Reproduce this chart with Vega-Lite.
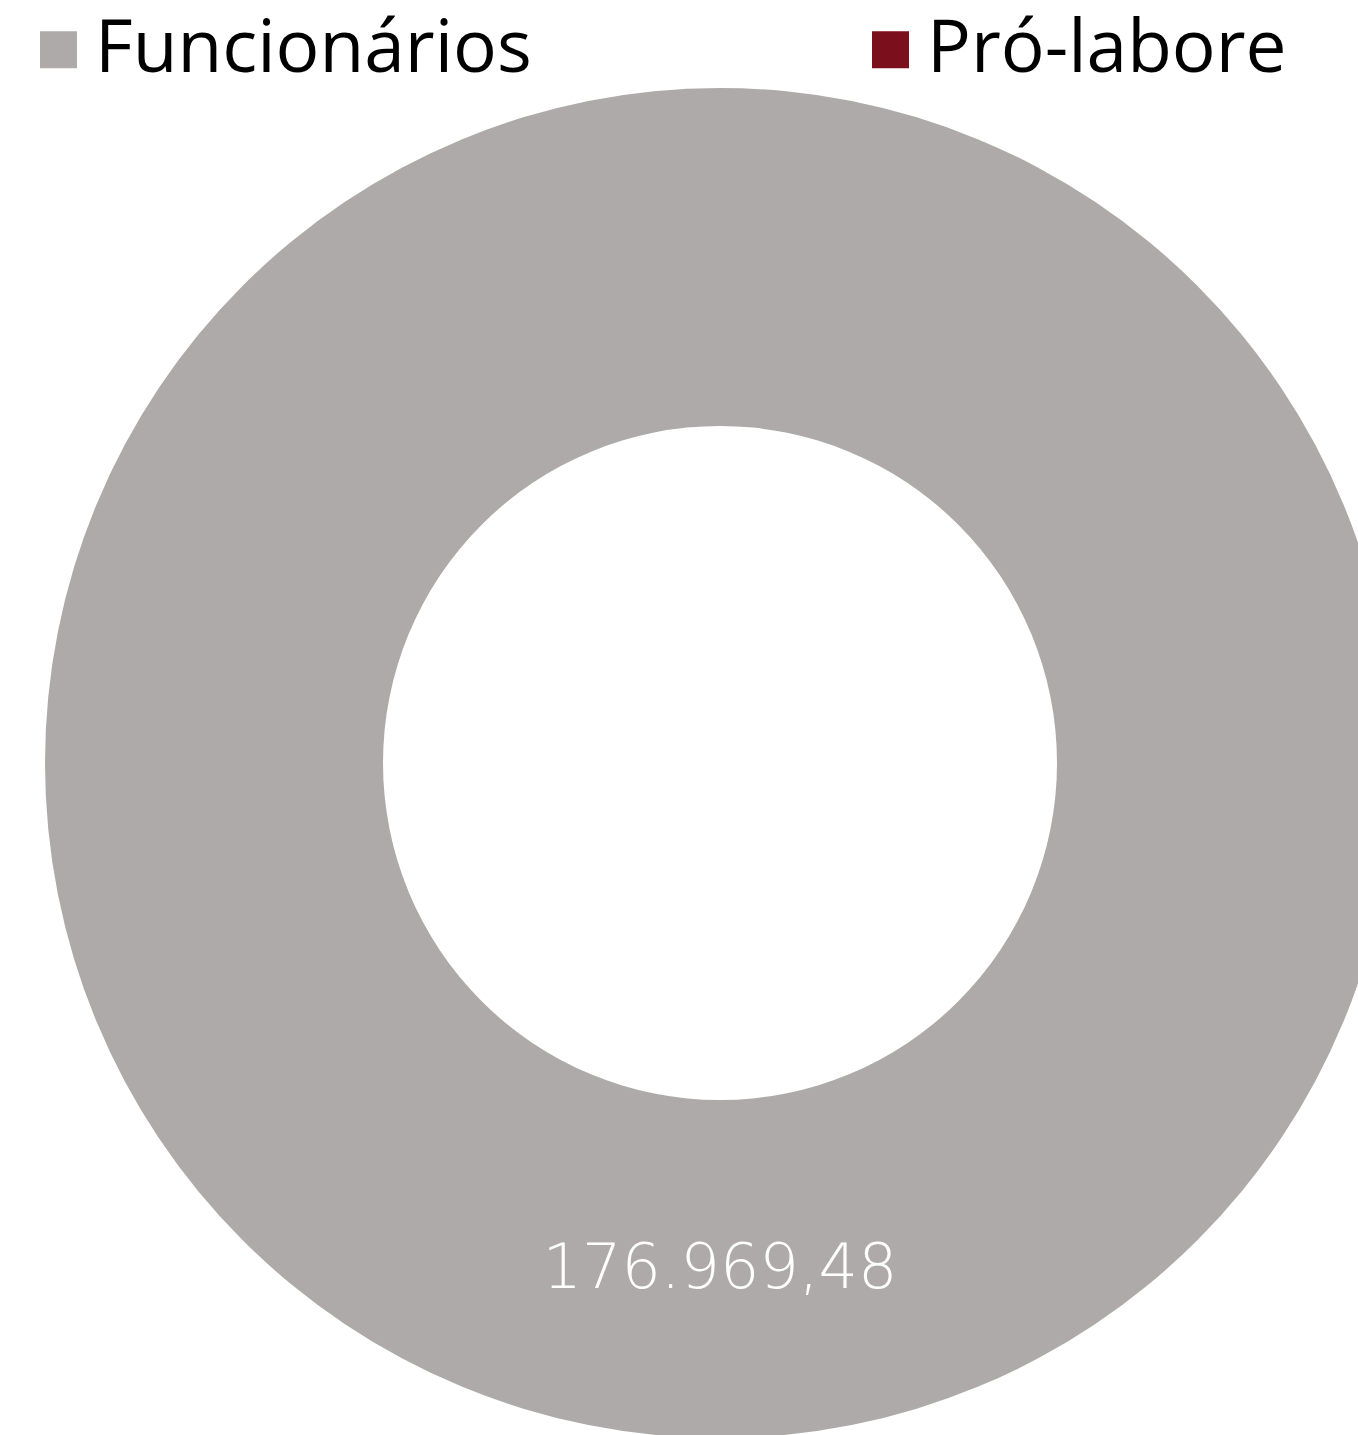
{
  "$schema": "https://vega.github.io/schema/vega-lite/v6.json",
  "autosize": {"type": "none"},
  "width": 1350,
  "height": 1350,
  "padding": {"left": 45, "top": 88, "right": -37, "bottom": -3},
  "background": "white",
  "config": {
    "view": {"stroke": null},
    "locale": {"number": {"decimal": ",", "thousands": ".", "grouping": [3], "currency": ["R$ ", ""]}}
  },
  "data": {"values": [
    {"categoria": "Funcionários", "valor": 176969.48},
    {"categoria": "Pró-labore", "valor": 0}
  ]},
  "encoding": {
    "theta": {"field": "valor", "type": "quantitative", "stack": true}
  },
  "layer": [
    {
      "mark": {"type": "arc", "innerRadius": 337, "outerRadius": 675},
      "encoding": {
        "color": {
          "field": "categoria", "type": "nominal",
          "scale": {"domain": ["Funcionários", "Pró-labore"], "range": ["#AEAAA9", "#7B0F1C"]},
          "legend": {
            "orient": "none", "legendX": -23, "legendY": -75,
            "direction": "horizontal", "columns": 2, "columnPadding": 322,
            "title": null, "symbolType": "square", "symbolSize": 1369,
            "symbolStrokeWidth": 0, "labelFontSize": 73, "labelFont": "Open Sans",
            "labelColor": "black", "labelOffset": 0, "labelLimit": 0
          }
        }
      }
    },
    {
      "transform": [{"filter": "datum.valor > 0"}],
      "mark": {"type": "text", "radius": 506, "fontSize": 62, "color": "white", "font": "DejaVu Sans", "fontWeight": 200},
      "encoding": {"text": {"field": "valor", "type": "quantitative", "format": ",.2f"}}
    }
  ]
}
